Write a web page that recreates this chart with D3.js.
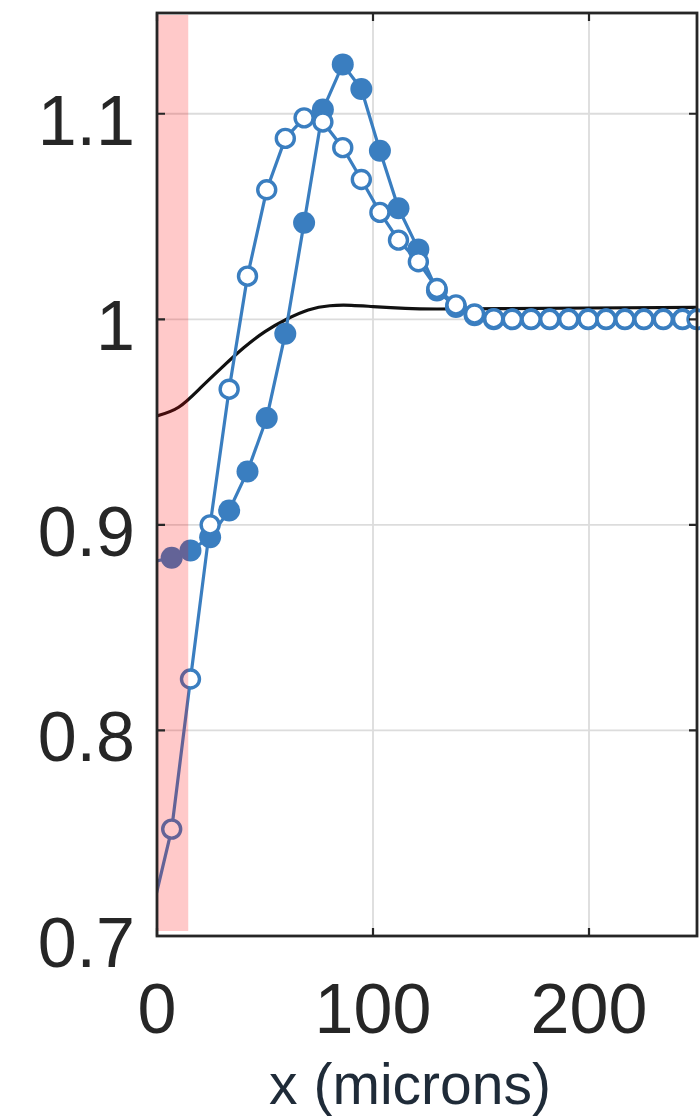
<!DOCTYPE html>
<html>
<head>
<meta charset="utf-8">
<script src="https://cdn.jsdelivr.net/npm/d3@7"></script>
<style>
  body { margin: 0; background: #fff; }
  text { font-family: "Liberation Sans", Arial, sans-serif; }
</style>
</head>
<body>
<svg id="chart"></svg>
<script>
// sample positions (microns)
const xPos = [-2, 6.8, 15.5, 24.6, 33.4, 41.9, 50.8, 59.4, 68.1, 76.8, 86.0, 94.6, 103.2, 111.8, 121.0,
  129.6, 138.4, 147.0, 155.9, 164.5, 173.2, 181.8, 190.6, 199.6, 207.9, 216.6, 225.4, 234.4, 243.3, 250];

// open circles
const openVals = [0.713, 0.752, 0.825, 0.900, 0.966, 1.021, 1.063, 1.088, 1.098, 1.096, 1.0835, 1.068, 1.052, 1.0385, 1.028,
  1.015, 1.007, 1.0026, 1.0003, 1.000, 1.000, 1.000, 1.000, 1.000, 1.000, 1.000, 1.000, 1.000, 1.000, 1.000];

// filled circles
const filledVals = [0.882, 0.884, 0.8875, 0.894, 0.907, 0.926, 0.952, 0.993, 1.047, 1.102, 1.124, 1.112, 1.082, 1.054, 1.034,
  1.014, 1.006, 1.002, 1.000, 1.000, 1.000, 1.000, 1.000, 1.000, 1.000, 1.000, 1.000, 1.000, 1.000, 1.000];

// black reference curve
const refX = [0, 10, 20, 30, 40, 50, 60, 70, 80, 90, 100, 115, 130, 160, 200, 250];
const refVals = [0.953, 0.9572, 0.9665, 0.9765, 0.986, 0.994, 1.0, 1.0045, 1.0066, 1.0068, 1.0062, 1.0053, 1.005, 1.0052, 1.0055, 1.0058];

// shaded region (microns)
const bandX = [0, 14];

const xTicks = [0, 100, 200];
const yTicks = [0.7, 0.8, 0.9, 1.0, 1.1];
const yTickLabels = ['0.7', '0.8', '0.9', '1', '1.1'];
const xLabel = 'x (microns)';

const W = 700, H = 1120;
const margin = { top: 13, right: 3, bottom: 184, left: 157 };
const iw = W - margin.left - margin.right;
const ih = H - margin.top - margin.bottom;
const blue = '#3a7ec0';

const svg = d3.select('#chart').attr('width', W).attr('height', H);

const x = d3.scaleLinear().domain([0, 250]).range([0, iw]);
const y = d3.scaleLinear().domain([0.7, 1.149]).range([ih, 0]);

const g = svg.append('g').attr('transform', `translate(${margin.left},${margin.top})`);

svg.append('defs').append('clipPath').attr('id', 'clip')
  .append('rect').attr('width', iw).attr('height', ih);

//GRID
g.selectAll('.vgrid').data(xTicks.filter(d => d > 0)).enter().append('line')
  .attr('x1', d => x(d)).attr('x2', d => x(d)).attr('y1', 0).attr('y2', ih)
  .attr('stroke', '#dcdcdc').attr('stroke-width', 1.8);
g.selectAll('.hgrid').data(yTicks.filter(d => d > 0.7)).enter().append('line')
  .attr('x1', 0).attr('x2', iw).attr('y1', d => y(d)).attr('y2', d => y(d))
  .attr('stroke', '#dcdcdc').attr('stroke-width', 1.8);

//LINES
const plot = g.append('g').attr('clip-path', 'url(#clip)');

const refData = refX.map((d, i) => [d, refVals[i]]);
plot.append('path').datum(refData)
  .attr('fill', 'none').attr('stroke', '#111').attr('stroke-width', 3.2)
  .attr('d', d3.line().x(d => x(d[0])).y(d => y(d[1])).curve(d3.curveNatural));

const filledData = xPos.map((d, i) => [d, filledVals[i]]);
const openData = xPos.map((d, i) => [d, openVals[i]]);
const line = d3.line().x(d => x(d[0])).y(d => y(d[1]));

plot.append('path').datum(filledData)
  .attr('fill', 'none').attr('stroke', blue).attr('stroke-width', 3.2).attr('d', line);
g.selectAll('.filled').data(filledData.filter(d => d[0] >= 0)).enter().append('circle')
  .attr('cx', d => x(d[0])).attr('cy', d => y(d[1])).attr('r', 11)
  .attr('fill', blue);

plot.append('path').datum(openData)
  .attr('fill', 'none').attr('stroke', blue).attr('stroke-width', 3.2).attr('d', line);
g.selectAll('.open').data(openData.filter(d => d[0] >= 0)).enter().append('circle')
  .attr('cx', d => x(d[0])).attr('cy', d => y(d[1])).attr('r', 9)
  .attr('fill', '#fff').attr('stroke', blue).attr('stroke-width', 3.4);

//SHADED BAND ON TOP
g.append('rect')
  .attr('x', x(bandX[0]) + 1).attr('width', x(bandX[1]) - x(bandX[0]))
  .attr('y', 2).attr('height', ih - 7)
  .attr('fill', '#ff0000').attr('fill-opacity', 0.21);

//AXES BOX
g.append('rect').attr('width', iw).attr('height', ih)
  .attr('fill', 'none').attr('stroke', '#262626').attr('stroke-width', 2.8);

const tk = 8;
g.selectAll('.ytk').data(yTicks).enter().append('path')
  .attr('d', d => `M0,${y(d)}h${tk}M${iw},${y(d)}h${-tk}`)
  .attr('stroke', '#262626').attr('stroke-width', 2.2);
g.selectAll('.xtk').data(xTicks).enter().append('path')
  .attr('d', d => `M${x(d)},${ih}v${-tk}M${x(d)},0v${tk}`)
  .attr('stroke', '#262626').attr('stroke-width', 2.2);

g.selectAll('.ylab').data(yTicks).enter().append('text')
  .attr('x', -22).attr('y', d => y(d) + 31)
  .attr('text-anchor', 'end').attr('font-size', 70).attr('fill', '#262626')
  .text((d, i) => yTickLabels[i]);

g.selectAll('.xlab').data(xTicks).enter().append('text')
  .attr('x', d => x(d)).attr('y', ih + 97)
  .attr('text-anchor', 'middle').attr('font-size', 70).attr('fill', '#262626')
  .text(d => d);

svg.append('text')
  .attr('x', 410).attr('y', 1104)
  .attr('text-anchor', 'middle').attr('font-size', 57).attr('fill', '#1f2b38')
  .text(xLabel);
</script>
</body>
</html>
